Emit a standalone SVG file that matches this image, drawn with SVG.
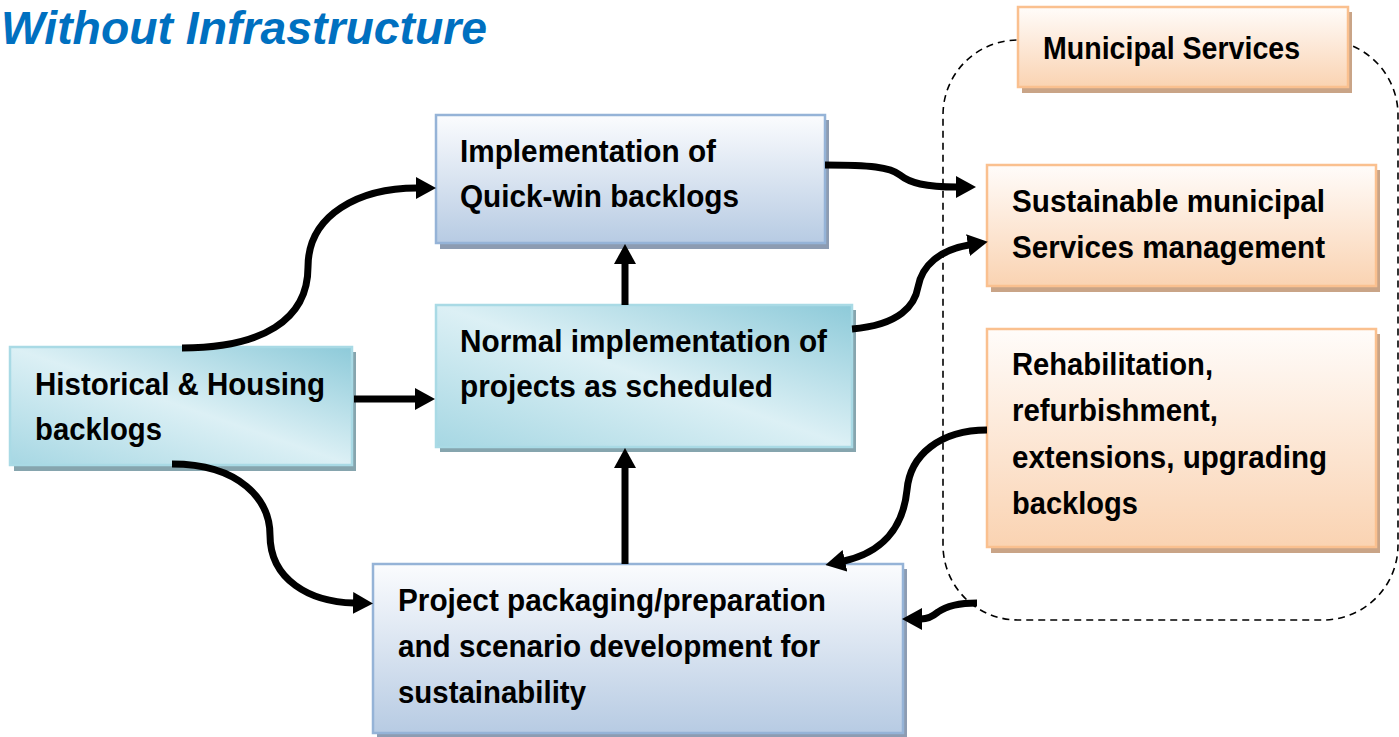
<svg xmlns="http://www.w3.org/2000/svg" width="1399" height="737" viewBox="0 0 1399 737">
<defs>
<linearGradient id="gBlue" x1="0" y1="0" x2="0" y2="1">
<stop offset="0" stop-color="#fbfcfe"/>
<stop offset="1" stop-color="#b7cbe3"/>
</linearGradient>
<linearGradient id="gTeal" x1="1" y1="0" x2="0" y2="1">
<stop offset="0" stop-color="#8dcad9"/>
<stop offset="0.5" stop-color="#dcf0f5"/>
<stop offset="1" stop-color="#a6d7e3"/>
</linearGradient>
<linearGradient id="gOrange" x1="0" y1="0" x2="0" y2="1">
<stop offset="0" stop-color="#fffcfa"/>
<stop offset="1" stop-color="#fad3b2"/>
</linearGradient>
<marker id="ah" viewBox="0 0 20 22" refX="1" refY="11" markerWidth="20" markerHeight="22" markerUnits="userSpaceOnUse" orient="auto">
<path d="M0,0 L20,11 L0,22 z" fill="#000"/>
</marker>
<style>
.t{font-family:"Liberation Sans",Arial,sans-serif;font-weight:bold;font-size:32px;fill:#000}
.title{font-family:"Liberation Sans",Arial,sans-serif;font-weight:bold;font-style:italic;font-size:46px;fill:#0070c0}
.bb{fill:url(#gBlue);stroke:#95b3d7;stroke-width:2.5}
.tb{fill:url(#gTeal);stroke:#a9dae5;stroke-width:2.5}
.ob{fill:url(#gOrange);stroke:#fac08f;stroke-width:2.5}
.bs{fill:#8d9cb2}
.ts{fill:#86a5ae}
.os{fill:#c9a487}
.c{fill:none;stroke:#000;stroke-width:7;marker-end:url(#ah)}
.dash{fill:none;stroke:#000;stroke-width:1.6;stroke-dasharray:7,5}
</style>
</defs>
<rect width="1399" height="737" fill="#fff"/>
<text class="title" x="1" y="44" textLength="486" lengthAdjust="spacingAndGlyphs">Without Infrastructure</text>

<rect class="dash" x="943" y="40" width="455" height="580" rx="75" ry="75"/>

<g id="n-municipal">
<rect class="os" x="1022" y="12" width="330" height="81"/>
<rect class="ob" x="1018" y="7" width="330" height="80"/>
<text class="t" x="1043" y="59" textLength="257" lengthAdjust="spacingAndGlyphs">Municipal Services</text>
</g>

<g id="n-sustainable">
<rect class="os" x="991" y="170" width="389" height="122"/>
<rect class="ob" x="987" y="165" width="389" height="121"/>
<text class="t" x="1012" y="212" textLength="313" lengthAdjust="spacingAndGlyphs">Sustainable municipal</text>
<text class="t" x="1012" y="258" textLength="313" lengthAdjust="spacingAndGlyphs">Services management</text>
</g>

<g id="n-rehab">
<rect class="os" x="991" y="334" width="389" height="219"/>
<rect class="ob" x="987" y="329" width="389" height="218"/>
<text class="t" x="1012" y="375" textLength="201" lengthAdjust="spacingAndGlyphs">Rehabilitation,</text>
<text class="t" x="1012" y="421" textLength="206" lengthAdjust="spacingAndGlyphs">refurbishment,</text>
<text class="t" x="1012" y="468" textLength="315" lengthAdjust="spacingAndGlyphs">extensions, upgrading</text>
<text class="t" x="1012" y="514" textLength="126" lengthAdjust="spacingAndGlyphs">backlogs</text>
</g>

<g id="n-quickwin">
<rect class="bs" x="440" y="120" width="389" height="129"/>
<rect class="bb" x="436" y="115" width="389" height="128"/>
<text class="t" x="460" y="162" textLength="256" lengthAdjust="spacingAndGlyphs">Implementation of</text>
<text class="t" x="460" y="207" textLength="279" lengthAdjust="spacingAndGlyphs">Quick-win backlogs</text>
</g>

<g id="n-normal">
<rect class="ts" x="440" y="310" width="416" height="142"/>
<rect class="tb" x="436" y="305" width="416" height="142"/>
<text class="t" x="460" y="352" textLength="367" lengthAdjust="spacingAndGlyphs">Normal implementation of</text>
<text class="t" x="460" y="397" textLength="313" lengthAdjust="spacingAndGlyphs">projects as scheduled</text>
</g>

<g id="n-historical">
<rect class="ts" x="14" y="352" width="342" height="119"/>
<rect class="tb" x="10" y="347" width="342" height="118"/>
<text class="t" x="35" y="395" textLength="290" lengthAdjust="spacingAndGlyphs">Historical &amp; Housing</text>
<text class="t" x="35" y="440" textLength="127" lengthAdjust="spacingAndGlyphs">backlogs</text>
</g>

<g id="n-project">
<rect class="bs" x="377" y="569" width="530" height="168"/>
<rect class="bb" x="373" y="564" width="530" height="169"/>
<text class="t" x="398" y="611" textLength="428" lengthAdjust="spacingAndGlyphs">Project packaging/preparation</text>
<text class="t" x="398" y="657" textLength="422" lengthAdjust="spacingAndGlyphs">and scenario development for</text>
<text class="t" x="398" y="703" textLength="188" lengthAdjust="spacingAndGlyphs">sustainability</text>
</g>

<g id="connectors">
<path class="c" d="M182,348 C262,348 308,320 308,267 C308,214 360,188 417,188"/>
<path class="c" d="M354,399 L416,399"/>
<path class="c" d="M172,464 C240,464 270,500 270,535 C270,580 310,602 354,603"/>
<path class="c" d="M625,305 L625,263"/>
<path class="c" d="M625,564 L625,467"/>
<path class="c" d="M825,165 C870,165 890,167 900,175 C910,183 925,187 957,187"/>
<path class="c" d="M852,329 C900,325 915,305 918,287 C922,265 940,250 969,245"/>
<path class="c" d="M987,430 C940,430 910,455 907,490 C903,530 880,553 844,561"/>
<path class="c" d="M977,603 C955,603 945,607 938,612 C932,617 928,619 921,619"/>
</g>
</svg>
